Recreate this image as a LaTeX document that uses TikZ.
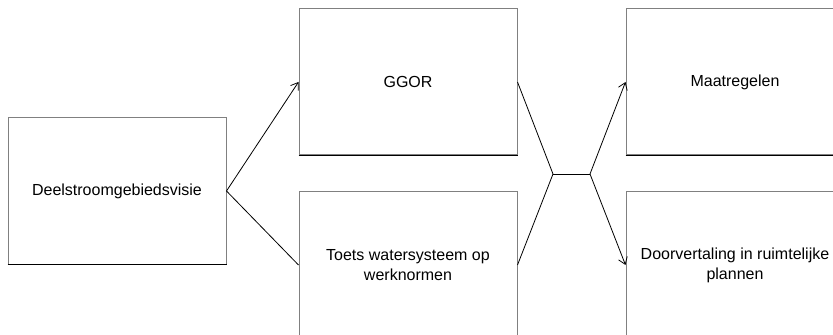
\documentclass[tikz,border=0pt]{standalone}
\usepackage{fontspec}
\setmainfont{Liberation Sans}
\usetikzlibrary{arrows.meta}
\begin{document}
\begin{tikzpicture}[x=0.75pt,y=-0.75pt,
  box/.style={draw=black!50, line width=0.75pt, minimum width=163.5pt, minimum height=109.5pt,
    inner sep=0pt, align=center, font=\fontsize{12}{15}\selectfont},
  conn/.style={line width=0.6pt, black},
  arr/.style={conn, -{Straight Barb[length=5pt,width=7pt]}}]
\useasboundingbox (0,0) rectangle (833,335);
\clip (0,0) rectangle (833,335);
\fill[white] (0,0) rectangle (833,335);
\node[box] (deel) at (117,191) {Deelstroomgebiedsvisie};
\node[box] (ggor) at (408,82) {GGOR};
\node[box] (toets) at (408,265) {Toets watersysteem op\\werknormen};
\node[box] (maat) at (735,82) {Maatregelen};
\node[box] (door) at (735,265) {Doorvertaling in ruimtelijke\\plannen};
\foreach \n in {deel,ggor,maat}
  \draw[line width=0.75pt, black] (\n.south west) -- (\n.south east);
\coordinate (j1) at (553,174);
\coordinate (j2) at (590,174);
\draw[arr] (deel.east) -- (ggor.west);
\draw[conn] (deel.east) -- (toets.west);
\draw[conn] (ggor.east) -- (j1);
\draw[conn] (toets.east) -- (j1);
\draw[conn] (j1) -- (j2);
\draw[arr] (j2) -- (maat.west);
\draw[arr] (j2) -- (door.west);
\end{tikzpicture}
\end{document}
